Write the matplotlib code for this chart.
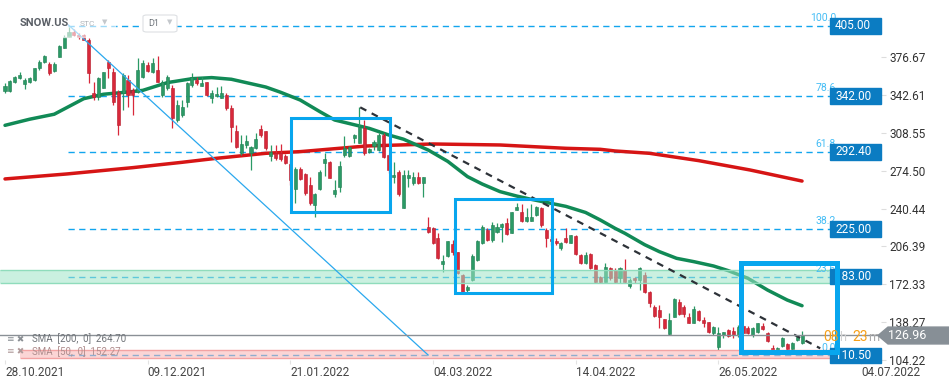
import numpy as np
import matplotlib.pyplot as plt
from matplotlib.patches import Rectangle, Polygon, FancyBboxPatch
from matplotlib.transforms import blended_transform_factory

plt.rcParams['font.family'] = ['Roboto', 'DejaVu Sans']

W, H = 949, 385

# daily candles from 28.10.2021
opens = [346.8, 346.8, 354.3, 358.5, 352.8, 354.3, 356.4, 366.9, 372.9, 370.5,
         364.5, 377.4, 385.5, 395.4, 399.9, 397.0, 396.9, 392.4, 344.4, 341.4,
         349.5, 372.9, 363.9, 345.9, 344.4, 356.4, 347.4, 345.9, 359.4, 369.9,
         363.9, 365.4, 342.9, 348.9, 348.9, 320.4, 324.9, 336.9, 351.9, 356.4,
         351.3, 354.3, 340.5, 342.3, 340.5, 342.9, 330.9, 310.5, 290.4, 297.9,
         290.8, 294.9, 312.3, 310.5, 287.9, 290.3, 290.3, 287.9, 281.0, 258.1,
         275.9, 271.4, 262.0, 243.7, 258.1, 281.9, 282.8, 253.6, 260.2, 288.8,
         288.2, 303.8, 299.9, 312.8, 291.8, 296.9, 293.3, 306.8, 288.8, 268.7,
         273.8, 240.7, 267.8, 263.2, 269.3, 263.2, 223.6, 223.3, 213.7, 190.6,
         198.1, 209.0, 201.1, 180.7, 167.1, 176.2, 194.2, 209.2, 221.2, 212.2,
         219.7, 223.6, 227.2, 218.8, 239.2, 237.1, 229.6, 229.6, 234.7, 240.7,
         221.2, 213.0, 211.3, 204.7, 213.7, 209.8, 215.8, 198.7, 191.8, 199.6,
         189.7, 178.5, 174.6, 186.7, 185.2, 177.7, 185.2, 170.7, 177.7, 176.1,
         180.7, 165.6, 151.5, 149.1, 140.7, 127.5, 143.1, 156.6, 152.1, 143.1,
         137.7, 148.2, 140.1, 138.0, 128.1, 116.1, 126.6, 131.1, 130.2, 127.0,
         134.7, 133.2, 126.6, 129.6, 134.7, 128.1, 114.6, 113.1, 116.7, 118.5,
         113.7, 122.1, 119.1]
highs = [353.4, 356.4, 360.3, 363.9, 357.9, 359.4, 367.5, 374.4, 378.9, 372.9,
         372.9, 387.9, 396.9, 404.4, 402.0, 399.0, 397.5, 393.9, 354.9, 359.4,
         363.9, 374.4, 366.9, 347.4, 362.4, 360.9, 348.9, 375.9, 374.4, 372.9,
         375.9, 378.3, 356.4, 360.9, 351.9, 338.4, 338.4, 354.9, 362.4, 359.4,
         359.4, 354.9, 347.4, 350.4, 351.0, 344.4, 333.9, 315.9, 306.9, 306.9,
         297.0, 308.4, 315.9, 310.5, 297.8, 297.8, 298.7, 290.0, 284.0, 277.7,
         277.7, 272.3, 269.2, 254.2, 275.2, 290.3, 283.4, 266.3, 283.4, 305.9,
         297.0, 307.7, 331.7, 320.3, 294.8, 302.3, 308.3, 308.3, 290.0, 282.8,
         275.3, 275.3, 275.3, 273.8, 273.8, 268.7, 232.6, 224.2, 218.8, 198.7,
         211.3, 212.0, 201.7, 181.3, 171.6, 199.3, 212.2, 226.0, 222.7, 228.7,
         227.2, 227.2, 231.7, 237.7, 245.8, 244.6, 240.7, 244.3, 242.8, 242.2,
         222.7, 216.0, 213.7, 210.7, 222.7, 216.7, 216.4, 199.6, 201.7, 200.2,
         190.6, 179.8, 191.2, 188.2, 187.0, 188.2, 194.8, 177.7, 179.2, 188.2,
         183.7, 166.2, 153.6, 153.6, 140.7, 146.7, 159.6, 159.0, 153.6, 146.1,
         152.7, 149.1, 143.1, 138.6, 134.7, 133.5, 129.6, 131.7, 134.1, 136.0,
         135.6, 134.7, 134.1, 137.7, 137.1, 129.6, 117.6, 116.1, 124.5, 119.1,
         120.6, 125.7, 130.2]
lows = [344.4, 345.9, 353.4, 357.3, 348.3, 353.4, 355.8, 365.4, 371.4, 360.9,
        363.9, 376.8, 384.9, 394.8, 396.0, 393.0, 392.4, 353.4, 338.4, 338.4,
        348.9, 357.9, 333.9, 306.9, 329.4, 332.4, 324.9, 344.4, 357.9, 363.9,
        362.4, 354.3, 341.4, 347.4, 312.9, 318.9, 323.4, 332.4, 350.4, 351.9,
        351.3, 342.3, 335.4, 341.4, 339.9, 329.4, 300.9, 294.9, 288.9, 294.9,
        275.2, 294.3, 305.4, 293.4, 283.6, 284.0, 283.0, 281.0, 262.0, 245.8,
        266.3, 252.7, 243.7, 233.2, 257.2, 269.8, 267.7, 251.2, 255.1, 287.3,
        287.0, 299.9, 299.3, 288.8, 290.9, 293.3, 292.7, 286.0, 272.3, 263.3,
        252.1, 240.7, 260.2, 261.7, 262.6, 251.2, 218.8, 208.6, 194.8, 183.7,
        197.2, 199.0, 181.6, 164.4, 165.6, 175.3, 193.6, 208.3, 211.6, 210.7,
        218.2, 210.7, 216.7, 218.2, 239.2, 228.7, 228.7, 229.6, 233.8, 224.2,
        206.2, 208.0, 207.7, 203.2, 209.8, 209.2, 199.0, 190.3, 190.6, 185.8,
        173.1, 173.1, 174.6, 176.2, 173.1, 173.1, 173.1, 168.6, 173.1, 167.1,
        164.4, 151.5, 143.1, 132.6, 131.7, 126.6, 142.5, 144.6, 143.1, 137.1,
        137.1, 139.5, 133.5, 128.7, 126.6, 113.1, 123.6, 125.1, 123.6, 125.0,
        128.1, 127.5, 124.5, 128.7, 131.1, 120.6, 112.5, 111.6, 116.1, 113.1,
        113.1, 121.5, 118.5]
closes = [351.0, 355.5, 359.4, 360.9, 356.4, 358.5, 366.9, 372.9, 378.3, 362.4,
          370.5, 387.3, 395.4, 399.3, 396.9, 395.0, 392.4, 362.4, 341.4, 357.9,
          363.9, 366.9, 336.9, 315.9, 360.9, 342.9, 342.9, 365.4, 371.4, 364.5,
          371.4, 354.9, 354.9, 359.4, 321.9, 333.9, 332.4, 353.4, 359.4, 353.4,
          354.0, 342.9, 344.4, 343.5, 344.4, 330.9, 314.4, 296.4, 298.5, 301.5,
          296.2, 303.3, 306.9, 294.9, 291.7, 285.8, 285.0, 281.8, 266.0, 275.9,
          266.9, 254.2, 245.2, 253.6, 273.7, 284.9, 268.3, 257.2, 278.9, 294.8,
          295.7, 306.8, 313.7, 290.3, 293.9, 300.8, 306.8, 287.3, 275.3, 270.8,
          253.6, 270.8, 270.8, 269.3, 263.2, 268.7, 219.7, 209.2, 195.7, 193.6,
          211.3, 201.0, 182.2, 165.6, 170.2, 197.8, 211.3, 224.2, 212.2, 225.7,
          224.2, 226.6, 217.6, 237.1, 242.2, 229.3, 232.6, 233.2, 241.6, 225.7,
          213.7, 211.0, 209.2, 209.2, 210.7, 216.7, 199.6, 191.2, 198.7, 186.7,
          174.6, 174.6, 188.2, 177.7, 174.6, 186.7, 174.6, 176.1, 176.1, 187.3,
          165.6, 155.1, 143.7, 142.5, 132.6, 140.1, 159.0, 145.5, 145.5, 137.7,
          150.0, 140.1, 137.1, 129.6, 134.1, 128.1, 129.6, 126.0, 126.6, 134.0,
          128.7, 128.1, 132.6, 137.1, 131.7, 121.5, 113.1, 115.2, 123.6, 114.0,
          119.7, 125.1, 126.96]

sma50_bars = [0, 5, 10, 16, 20, 25, 28, 33, 38, 42, 46, 50, 53, 56, 60, 64, 67, 74, 78, 81,
              86, 90, 94, 97, 100.6, 104, 107, 111, 114, 118, 121, 124, 126, 130, 133,
              136.5, 140, 144, 147, 151, 155, 159, 162]
sma50_vals = [315.5, 321.0, 325.5, 339.5, 343.5, 345.5, 347.0, 354.0, 357.5, 358.5, 357.0,
              353.0, 350.0, 345.3, 338.3, 327.8, 320.3, 312.8, 306.8, 303.0, 293.3, 283.0,
              269.3, 262.6, 255.8, 251.8, 248.8, 245.2, 242.5, 237.0, 230.2, 222.7, 218.2,
              208.0, 201.7, 195.7, 192.7, 188.8, 184.6, 177.7, 167.1, 158.1, 153.0]
sma200_bars = [0, 12.6, 26, 36, 43, 53, 60, 73.5, 87, 100.6, 114, 121, 124, 131, 141, 151.4, 162]
sma200_vals = [267.2, 271.7, 277.4, 282.2, 285.8, 290.3, 291.8, 296.9, 298.7, 297.8, 294.8,
               293.9, 292.4, 290.3, 283.7, 275.3, 265.3]

date_bars = [0, 29, 58, 87, 116, 145, 174]
date_labels = ['28.10.2021', '09.12.2021', '21.01.2022', '04.03.2022',
               '14.04.2022', '26.05.2022', '04.07.2022']
price_ticks = [104.22, 138.27, 172.33, 206.39, 240.44, 274.50, 308.55, 342.61, 376.67]

fib_pcts = ['100.0', '78.6', '61.8', '38.2', '23.6', '0.0']
fib_labels = ['405.00', '342.00', '292.40', '225.00', '183.00', '110.50']
fib_levels = [405.0, 341.9, 291.5, 222.1, 179.1, 108.3]

green_zone = (173.7, 185.2)
red_zone = (105.9, 113.1)
last_price = 126.96


def bx(px):
    # figure pixel column -> bar index
    return (px - 5) / 4.92


fig = plt.figure(figsize=(W / 100, H / 100), dpi=100)
ax = fig.add_axes([0, 25 / H, 881 / W, 360 / H])
ax.set_xlim(-1.02, 178.05)
ax.set_ylim(104.1, 428.4)
for s in ax.spines.values():
    s.set_visible(False)
blend = blended_transform_factory(fig.transFigure, ax.transData)
ftr = fig.transFigure

# fibonacci levels
for lvl in fib_levels:
    ax.hlines(lvl, bx(68), bx(830), colors='#12a5ee', lw=1.0,
              linestyles=(0, (4.5, 3.2)), zorder=1)

# moving averages
ax.plot(sma200_bars, sma200_vals, color='#d61515', lw=2.5, solid_capstyle='round', zorder=2)
ax.plot(sma50_bars, sma50_vals, color='#118a56', lw=2.5, solid_capstyle='round', zorder=2)

# candles
bars = np.arange(len(closes))
o = np.array(opens)
c = np.array(closes)
up = c >= o
col = np.where(up, '#2b9a66', '#d8283a')
edge = np.where(up, '#1f7d50', '#b51c2c')
ax.vlines(bars, lows, highs, colors=col, lw=0.9, zorder=3)
ax.bar(bars, np.maximum(np.abs(c - o), 0.8), bottom=np.minimum(o, c), width=0.62,
       color=col, edgecolor=edge, lw=0.4, zorder=3)

# zones
ax.add_patch(Rectangle((bx(0), green_zone[0]), bx(833) - bx(0), green_zone[1] - green_zone[0],
                       fc='#9fe5c8', ec='none', alpha=0.55, zorder=4))
ax.hlines(green_zone, bx(0), bx(833), colors='#8fdcbc', lw=1, zorder=4)
ax.add_patch(Rectangle((bx(20), red_zone[0]), bx(833) - bx(20), red_zone[1] - red_zone[0],
                       fc='#f8b4b4', ec='none', alpha=0.55, zorder=4))
ax.hlines(red_zone, bx(20), bx(833), colors='#f3a3a3', lw=1, zorder=4)

# trend lines
ax.plot([12.9, 86.0], [405.9, 108.6], color='#2aa8ee', lw=0.9, zorder=5)
ax.plot([72.2, 165.7], [331.7, 114.6], color='#2d3238', lw=1.6, dashes=(3.1, 2.7), zorder=5)

# current price line
ax.axhline(last_price, color='#8a9096', lw=1, zorder=5)

# highlight boxes
for x0, x1, y0, y1, lw in [(58.1, 78.3, 237.4, 322.1, 2.2),
                           (91.4, 111.2, 164.4, 249.1, 2.2)]:
    ax.add_patch(Rectangle((x0, y0), x1 - x0, y1 - y0, fill=False, ec='#08a6ee', lw=lw, zorder=6))

# fib percent labels and price boxes
for lvl, pct, lab in zip(fib_levels, fib_pcts, fib_labels):
    ax.text(836 / W, lvl + 2.5, pct, transform=blend, ha='right', va='bottom',
            color='#45bdf5', fontsize=7.5, zorder=6, clip_on=False)
    ax.add_patch(Rectangle((830 / W, lvl - 6.8), 51 / W, 13.6, transform=blend,
                           color='#0b7cc2', zorder=7, clip_on=False))
    ax.text(835 / W, lvl, lab, transform=blend, ha='left', va='center',
            color='white', fontsize=8.5, zorder=7.5, clip_on=False)

ax.add_patch(Rectangle((149.6, 111.3), 169.1 - 149.6, 191.9 - 111.3, fill=False,
                       ec='#08a6ee', lw=3.6, zorder=8, clip_on=False))

# countdown + last price tag
ax.text(823 / W, last_price - 2.5, '08', transform=blend, color='#f6a01a', fontsize=10,
        va='center', zorder=8.5)
ax.text(839 / W, last_price - 2.5, 'h', transform=blend, color='#d0d0d0', fontsize=9,
        va='center', zorder=8.5)
ax.text(852 / W, last_price - 2.5, '23', transform=blend, color='#f6a01a', fontsize=10,
        va='center', zorder=8.5)
ax.text(868 / W, last_price - 2.5, 'm', transform=blend, color='#aaaaaa', fontsize=9,
        va='center', zorder=8.5)
ax.add_patch(Polygon([(878 / W, last_price - 0.8), (888 / W, last_price + 6.8),
                      (1, last_price + 6.8), (1, last_price - 8.4),
                      (888 / W, last_price - 8.4)],
                     closed=True, transform=blend, color='#878f96', zorder=9, clip_on=False))
ax.text(907 / W, last_price - 1.0, f'{last_price:.2f}', transform=blend, ha='center',
        va='center', color='white', fontsize=9, zorder=10)

# header
ax.add_patch(Rectangle((15 / W, 1 - 37 / H), 100 / W, 27 / H, transform=ftr,
                       color='white', alpha=0.6, zorder=9, clip_on=False))
ax.text(20 / W, 1 - 23 / H, 'SNOW.US', transform=ftr, color='#5a5f66', fontsize=8,
        fontweight='bold', va='center', zorder=10)
ax.text(80 / W, 1 - 24 / H, 'STC', transform=ftr, color='#b0b5bb', fontsize=6,
        va='center', zorder=10)
ax.text(105 / W, 1 - 23 / H, '▼', transform=ftr, color='#c4c8cc', fontsize=5,
        va='center', ha='center', zorder=10)
ax.add_patch(FancyBboxPatch((143 / W, 1 - 32 / H), 34 / W, 17 / H, transform=ftr,
                            boxstyle='round,pad=0,rounding_size=0.004', fc='white',
                            ec='#dde0e3', lw=0.8, zorder=9, clip_on=False))
ax.text(148 / W, 1 - 23.5 / H, 'D1', transform=ftr, color='#6e747a', fontsize=6.5,
        va='center', zorder=10)
ax.text(170 / W, 1 - 23 / H, '▼', transform=ftr, color='#c4c8cc', fontsize=5,
        va='center', ha='center', zorder=10)

# indicator legend
ax.text(7 / W, 1 - 339 / H, '≡ ✖', transform=ftr, color='#8a8f94', fontsize=6.5,
        va='center', zorder=10)
ax.text(32 / W, 1 - 339 / H, 'SMA  [200,  0]  264.70', transform=ftr, color='#6f7378',
        fontsize=7, va='center', zorder=10)
ax.text(7 / W, 1 - 352 / H, '≡ ✖', transform=ftr, color='#b09a9a', fontsize=6.5,
        va='center', zorder=10)
ax.text(32 / W, 1 - 352 / H, 'SMA  [50,  0]  152.27', transform=ftr, color='#b08e8e',
        fontsize=7, va='center', zorder=10)

# axes
ax.yaxis.tick_right()
ax.set_yticks(price_ticks)
ax.set_yticklabels([f'{v:.2f}' for v in price_ticks])
ax.tick_params(axis='y', length=3.6, color='#dddddd', pad=2.2, labelsize=8.5,
               labelcolor='#333333')
ax.set_xticks(date_bars)
ax.set_xticklabels(date_labels, ha='left')
ax.tick_params(axis='x', length=3, color='#e3e3e3', pad=1.5, labelsize=8.5,
               labelcolor='#444444')

fig.savefig('out.png', dpi=100)
